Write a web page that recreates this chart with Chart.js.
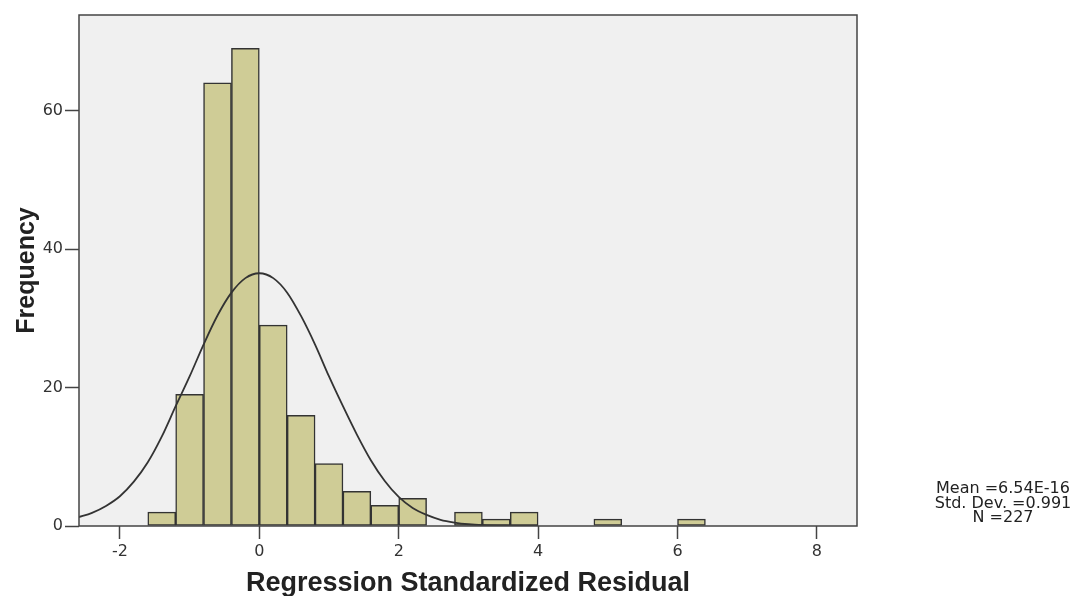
<!DOCTYPE html>
<html>
<head>
<meta charset="utf-8">
<script src="https://cdn.jsdelivr.net/npm/chart.js@4/dist/chart.umd.min.js"></script>
<style>
  body { margin: 0; background: #fff; }
  #wrap { position: relative; width: 1085px; height: 596px; }
  #stats {
    position: absolute; left: 903px; width: 200px; top: 481px;
    font-family: "DejaVu Sans", sans-serif; font-size: 16px; line-height: 14.5px;
    color: #222; text-align: center; white-space: nowrap;
  }
</style>
</head>
<body>
<div id="wrap">
  <canvas id="chart" width="1085" height="596"></canvas>
  <div id="stats">Mean =6.54E-16<br>Std. Dev. =0.991<br>N =227</div>
</div>
<script>
// Histogram bins (lower edges, width 0.4) and counts
const binStarts = [-1.6, -1.2, -0.8, -0.4, 0.0, 0.4, 0.8, 1.2, 1.6, 2.0, 2.8, 3.2, 3.6, 4.8, 6.0];
const binCounts = [2, 19, 64, 69, 29, 16, 9, 5, 3, 4, 2, 1, 2, 1, 1];
const binWidth = 0.4;

// Normal curve
const curveX = [-2.6, -2.4, -2.2, -2.0, -1.8, -1.6, -1.4, -1.2, -1.0, -0.8, -0.6, -0.4, -0.2, 0.0,
  0.2, 0.4, 0.6, 0.8, 1.0, 1.2, 1.4, 1.6, 1.8, 2.0, 2.2, 2.4, 2.6, 2.8, 3.0, 3.2, 3.6, 4.0];
const curveY = [1.25, 1.9, 2.9, 4.3, 6.4, 9.2, 12.9, 17.3, 21.6, 26.2, 30.4, 33.7, 35.8, 36.5,
  35.8, 33.7, 30.3, 26.2, 21.6, 17.3, 13.2, 9.5, 6.5, 4.2, 2.6, 1.6, 0.9, 0.5, 0.25, 0.12, 0.03, 0];

// Axis ticks
const xTicks = [-2, 0, 2, 4, 6, 8];
const yTicks = [0, 20, 40, 60];

const barData = binStarts.map((s, i) => ({ x: s + binWidth / 2, y: binCounts[i] }));
const curveData = curveX.map((x, i) => ({ x: x, y: curveY[i] }));

// plot background and frame
const framePlugin = {
  id: 'frame',
  beforeDraw(chart) {
    const a = chart.chartArea;
    const ctx = chart.ctx;
    ctx.save();
    ctx.fillStyle = '#f0f0f0';
    ctx.fillRect(a.left, a.top, a.right - a.left, a.bottom - a.top);
    ctx.restore();
  },
  afterDraw(chart) {
    const a = chart.chartArea;
    const ctx = chart.ctx;
    ctx.save();
    ctx.strokeStyle = '#444';
    ctx.lineWidth = 1.5;
    ctx.strokeRect(a.left, a.top, a.right - a.left, a.bottom - a.top);
    ctx.restore();
  }
};

const tickFont = { family: 'DejaVu Sans', size: 16 };

new Chart(document.getElementById('chart'), {
  type: 'bar',
  data: {
    datasets: [{
      type: 'line',
      data: curveData,
      borderColor: '#333',
      borderWidth: 1.8,
      pointRadius: 0,
      cubicInterpolationMode: 'monotone',
      fill: false
    }, {
      data: barData,
      backgroundColor: '#cfcc96',
      borderColor: '#333',
      borderWidth: 1.5,
      borderSkipped: false,
      barPercentage: 1,
      categoryPercentage: 1
    }]
  },
  options: {
    responsive: false,
    animation: false,
    layout: { padding: { top: 15, right: 228, left: 0, bottom: 0 } },
    plugins: { legend: { display: false }, tooltip: { enabled: false } },
    scales: {
      x: {
        type: 'linear',
        min: -2.587,
        max: 8.575,
        offset: false,
        afterBuildTicks: (s) => { s.ticks = xTicks.map(v => ({ value: v })); },
        afterFit: (s) => { s.height = 70; },
        grid: { offset: false, drawOnChartArea: false, tickLength: 13, tickColor: '#444', tickWidth: 1.5 },
        border: { display: false },
        ticks: { font: tickFont, color: '#333', padding: 3, maxRotation: 0 },
        title: {
          display: true,
          text: 'Regression Standardized Residual',
          font: { family: 'Liberation Sans', size: 27, weight: 'bold', lineHeight: 0.9 },
          color: '#222',
          padding: { top: 0, bottom: 0 }
        }
      },
      y: {
        min: 0,
        max: 73.8,
        afterBuildTicks: (s) => { s.ticks = yTicks.map(v => ({ value: v })); },
        afterFit: (s) => { s.width = 79; },
        grid: { drawOnChartArea: false, tickLength: 14, tickColor: '#444', tickWidth: 1.5 },
        border: { display: false },
        ticks: { font: tickFont, color: '#333', padding: 2 },
        title: {
          display: true,
          text: 'Frequency',
          font: { family: 'Liberation Sans', size: 25, weight: 'bold', lineHeight: 1.2 },
          color: '#222',
          padding: { top: 12, bottom: 0 }
        }
      }
    }
  },
  plugins: [framePlugin]
});
</script>
</body>
</html>
